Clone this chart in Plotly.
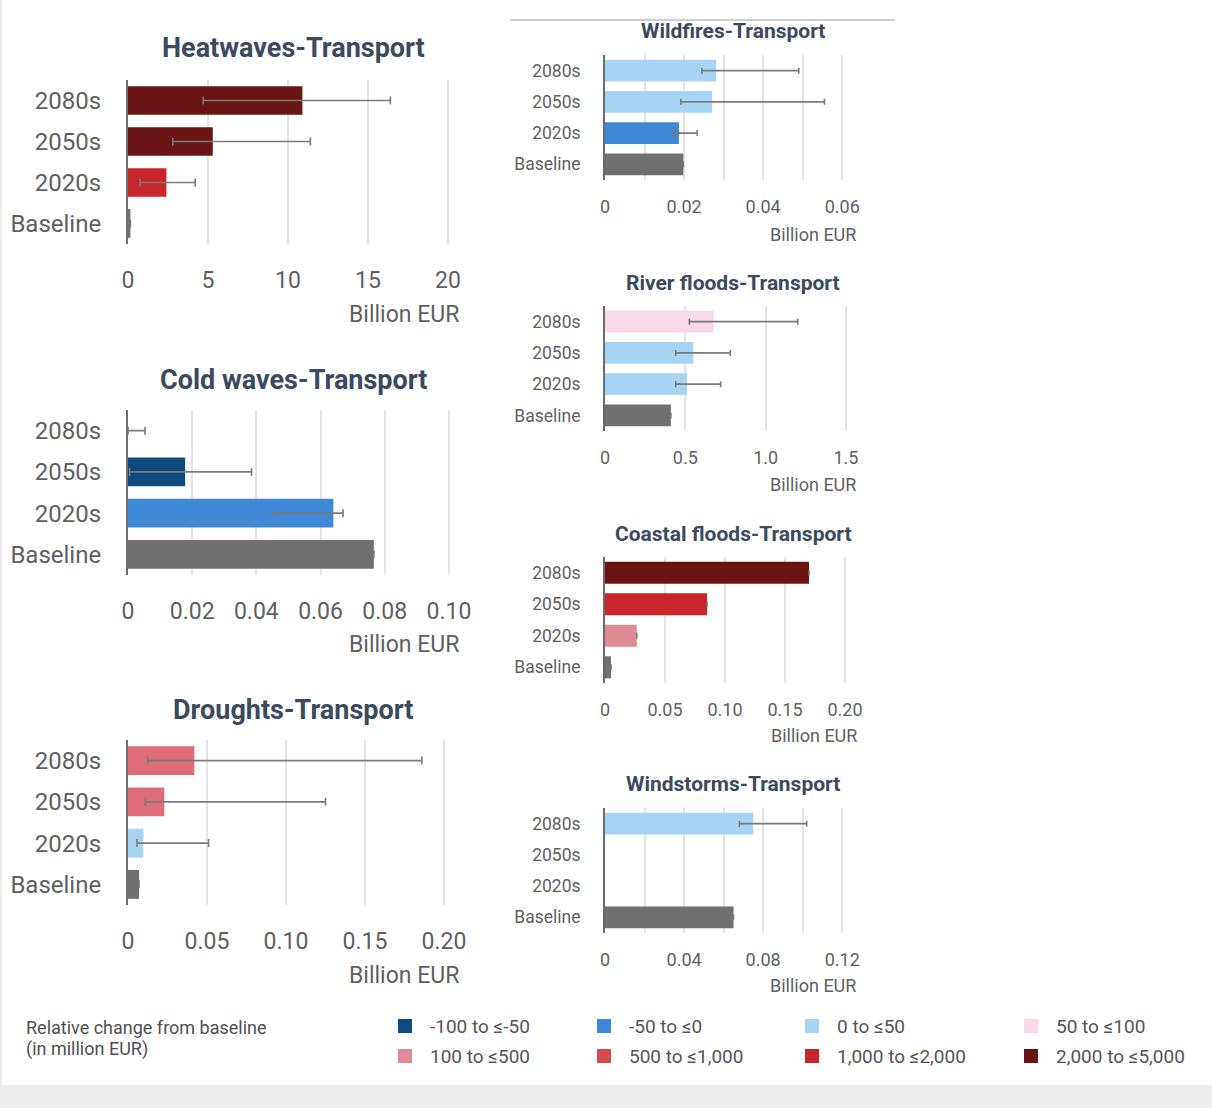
import plotly.graph_objects as go

W, H = 1212, 1108

categories = ["Baseline", "2020s", "2050s", "2080s"]

# ---- data (Billion EUR), order: Baseline, 2020s, 2050s, 2080s ----
heat_values = [0.15, 2.4, 5.3, 10.9]
heat_low = [None, 0.75, 2.8, 4.7]
heat_high = [None, 4.2, 11.4, 16.4]

cold_values = [0.0766, 0.064, 0.0178, 0.0]
cold_low = [None, 0.045, 0.0005, 0.0]
cold_high = [None, 0.067, 0.0385, 0.0053]

drought_values = [0.007, 0.0097, 0.023, 0.042]
drought_low = [None, 0.0057, 0.011, 0.0125]
drought_high = [None, 0.051, 0.125, 0.186]

wildfire_values = [0.0198, 0.0187, 0.0271, 0.0281]
wildfire_low = [None, 0.0172, 0.0192, 0.0245]
wildfire_high = [None, 0.0233, 0.0555, 0.049]

river_values = [0.41, 0.51, 0.55, 0.675]
river_low = [None, 0.44, 0.44, 0.525]
river_high = [None, 0.72, 0.78, 1.2]

coastal_values = [0.005, 0.0265, 0.085, 0.17]
coastal_low = [None, None, None, None]
coastal_high = [None, None, None, None]

wind_values = [0.065, None, None, 0.075]
wind_low = [None, None, None, 0.068]
wind_high = [None, None, None, 0.102]

titles = ["Heatwaves-Transport", "Cold waves-Transport", "Droughts-Transport",
          "Wildfires-Transport", "River floods-Transport", "Coastal floods-Transport",
          "Windstorms-Transport"]

heat_ticks = [0, 5, 10, 15, 20]
heat_ticktext = ["0", "5", "10", "15", "20"]
cold_ticks = [0, 0.02, 0.04, 0.06, 0.08, 0.10]
cold_ticktext = ["0", "0.02", "0.04", "0.06", "0.08", "0.10"]
drought_ticks = [0, 0.05, 0.10, 0.15, 0.20]
drought_ticktext = ["0", "0.05", "0.10", "0.15", "0.20"]
wildfire_ticks = [0, 0.02, 0.04, 0.06]
wildfire_ticktext = ["0", "0.02", "0.04", "0.06"]
river_ticks = [0, 0.5, 1.0, 1.5]
river_ticktext = ["0", "0.5", "1.0", "1.5"]
coastal_ticks = [0, 0.05, 0.10, 0.15, 0.20]
coastal_ticktext = ["0", "0.05", "0.10", "0.15", "0.20"]
wind_ticks = [0, 0.04, 0.08, 0.12]
wind_ticktext = ["0", "0.04", "0.08", "0.12"]

axis_title = "Billion EUR"

legend_title_lines = ["Relative change from baseline", "(in million EUR)"]
legend_labels = ["-100 to ≤-50", "-50 to ≤0", "0 to ≤50", "50 to ≤100",
                 "100 to ≤500", "500 to ≤1,000", "1,000 to ≤2,000", "2,000 to ≤5,000"]

# ---- styles ----
C_GREY = "#707070"
C_NAVY = "#0d4a80"
C_BLUE = "#3f88d6"
C_LBLUE = "#a8d4f4"
C_PINK = "#f6d8e8"
C_ROSE = "#df8a95"
C_MRED = "#d44a50"
C_RED = "#c8262c"
C_DRED = "#6a1416"
legend_colors = [C_NAVY, C_BLUE, C_LBLUE, C_PINK, C_ROSE, C_MRED, C_RED, C_DRED]

heat_colors = [C_GREY, C_RED, C_DRED, C_DRED]
cold_colors = [C_GREY, C_BLUE, C_NAVY, C_NAVY]
drought_colors = [C_GREY, C_LBLUE, "#de6d79", "#de6d79"]
wildfire_colors = [C_GREY, C_BLUE, C_LBLUE, C_LBLUE]
river_colors = [C_GREY, C_LBLUE, C_LBLUE, C_PINK]
coastal_colors = [C_GREY, C_ROSE, C_RED, C_DRED]
wind_colors = [C_GREY, C_LBLUE, C_LBLUE, C_LBLUE]

TITLE_COLOR = "#3b4a5c"
TICK_COLOR = "#5f5f5f"
GRID = "#e4e4e4"
FONT = "Roboto"

panels = [
    dict(vals=heat_values, lo=heat_low, hi=heat_high, col=heat_colors, tv=heat_ticks, tt=heat_ticktext,
         minor=None, geom=(128, 464, 80, 244, 21.0), big=True, ty=48, tx=293, lab_y=314),
    dict(vals=cold_values, lo=cold_low, hi=cold_high, col=cold_colors, tv=cold_ticks, tt=cold_ticktext,
         minor=None, geom=(128, 464, 410, 575, 0.1047), big=True, ty=380, tx=293, lab_y=645),
    dict(vals=drought_values, lo=drought_low, hi=drought_high, col=drought_colors, tv=drought_ticks,
         tt=drought_ticktext, minor=None, geom=(128, 464, 740, 905, 0.2127), big=True, ty=710, tx=293,
         lab_y=975),
    dict(vals=wildfire_values, lo=wildfire_low, hi=wildfire_high, col=wildfire_colors, tv=wildfire_ticks,
         tt=wildfire_ticktext, minor=0.01, geom=(605, 862, 55, 180, 0.065), big=False, ty=31, tx=733,
         lab_y=234),
    dict(vals=river_values, lo=river_low, hi=river_high, col=river_colors, tv=river_ticks, tt=river_ticktext,
         minor=None, geom=(605, 862, 306, 431, 1.6), big=False, ty=283, tx=733, lab_y=484),
    dict(vals=coastal_values, lo=coastal_low, hi=coastal_high, col=coastal_colors, tv=coastal_ticks,
         tt=coastal_ticktext, minor=None, geom=(605, 863, 557, 683, 0.215), big=False, ty=534, tx=733,
         lab_y=735),
    dict(vals=wind_values, lo=wind_low, hi=wind_high, col=wind_colors, tv=wind_ticks, tt=wind_ticktext,
         minor=0.02, geom=(605, 862, 808, 933, 0.13), big=False, ty=784, tx=733, lab_y=985),
]


def fx(px):
    return px / W


def fy(py):
    return 1 - py / H


fig = go.Figure()
annotations = []
shapes = []

for i, p in enumerate(panels):
    n = "" if i == 0 else str(i + 1)
    x0, x1, yt, yb, xmax = p["geom"]
    big = p["big"]
    plus, minus = [], []
    for v, lo, hi in zip(p["vals"], p["lo"], p["hi"]):
        if v is None or lo is None or hi is None:
            plus.append(None)
            minus.append(None)
        else:
            plus.append(hi - v)
            minus.append(v - lo)
    fig.add_trace(go.Bar(
        y=categories, x=p["vals"], orientation="h",
        marker=dict(color=p["col"], line=dict(width=0)),
        width=0.7,
        error_x=dict(type="data", symmetric=False, array=plus, arrayminus=minus,
                     color="#7a7a7a", thickness=1.6, width=4 if big else 3),
        xaxis="x" + n, yaxis="y" + n, showlegend=False, hoverinfo="x+y",
    ))
    xa = dict(domain=[fx(x0), fx(x1)], anchor="y" + n, range=[0, xmax],
              tickvals=p["tv"], ticktext=p["tt"], showgrid=True, gridcolor=GRID, gridwidth=1.5,
              zeroline=False, showline=False, ticks="", automargin=False,
              tickfont=dict(family=FONT, size=23 if big else 18, color=TICK_COLOR),
              ticklabelstandoff=20 if big else 14, fixedrange=True)
    if p["minor"]:
        xa["minor"] = dict(dtick=p["minor"], tick0=0, showgrid=True, gridcolor=GRID, gridwidth=1.5)
    ya = dict(domain=[fy(yb), fy(yt)], anchor="x" + n, type="category",
              categoryorder="array", categoryarray=categories, automargin=False,
              showline=True, linecolor="#6a6a6a", linewidth=2, showgrid=False, ticks="",
              tickfont=dict(family=FONT, size=24 if big else 17.5, color=TICK_COLOR),
              ticklabelstandoff=20 if big else 19, fixedrange=True)
    fig.update_layout(**{"xaxis" + n: xa, "yaxis" + n: ya})
    annotations.append(dict(text="<b>" + titles[i] + "</b>", x=fx(p["tx"]), y=fy(p["ty"]),
                            xref="paper", yref="paper", xanchor="center", yanchor="middle",
                            showarrow=False,
                            font=dict(family=FONT, size=27 if big else 21, color=TITLE_COLOR)))
    annotations.append(dict(text=axis_title, x=fx(x1 + (-3 if big else -4)), y=fy(p["lab_y"]),
                            xref="paper", yref="paper", xanchor="right", yanchor="middle",
                            showarrow=False,
                            font=dict(family=FONT, size=23 if big else 18, color=TICK_COLOR)))

# top separator line above wildfires panel
shapes.append(dict(type="line", xref="paper", yref="paper", x0=fx(510), x1=fx(895), y0=fy(20), y1=fy(20),
                   line=dict(color="#cfcfcf", width=2)))
# bottom grey strip and left edge
shapes.append(dict(type="rect", xref="paper", yref="paper", x0=0, x1=1, y0=0, y1=fy(1085),
                   fillcolor="#ececec", line=dict(width=0), layer="below"))
shapes.append(dict(type="rect", xref="paper", yref="paper", x0=0, x1=fx(2), y0=0, y1=1,
                   fillcolor="#ececec", line=dict(width=0), layer="below"))

# legend
for k, line in enumerate(legend_title_lines):
    annotations.append(dict(text=line, x=fx(24), y=fy(1027 + 22 * k), xref="paper", yref="paper",
                            xanchor="left", yanchor="middle", showarrow=False,
                            font=dict(family=FONT, size=18, color="#4f4f4f")))
col_x = [398, 597, 805, 1024]
row_y = [1026, 1056]
for k, (lab, c) in enumerate(zip(legend_labels, legend_colors)):
    cx = col_x[k % 4]
    cy = row_y[k // 4]
    shapes.append(dict(type="rect", xref="paper", yref="paper", x0=fx(cx), x1=fx(cx + 14),
                       y0=fy(cy + 7), y1=fy(cy - 7), fillcolor=c, line=dict(width=0)))
    annotations.append(dict(text=lab, x=fx(cx + 30), y=fy(cy), xref="paper", yref="paper",
                            xanchor="left", yanchor="middle", showarrow=False,
                            font=dict(family=FONT, size=19, color="#555555")))

fig.update_layout(width=W, height=H, margin=dict(l=0, r=0, t=0, b=0),
                  paper_bgcolor="white", plot_bgcolor="white", bargap=0.3,
                  annotations=annotations, shapes=shapes, showlegend=False)

fig.write_html("out.html", config={"displayModeBar": False},
               post_script="document.body.style.margin='0';document.body.style.overflow='hidden';")
